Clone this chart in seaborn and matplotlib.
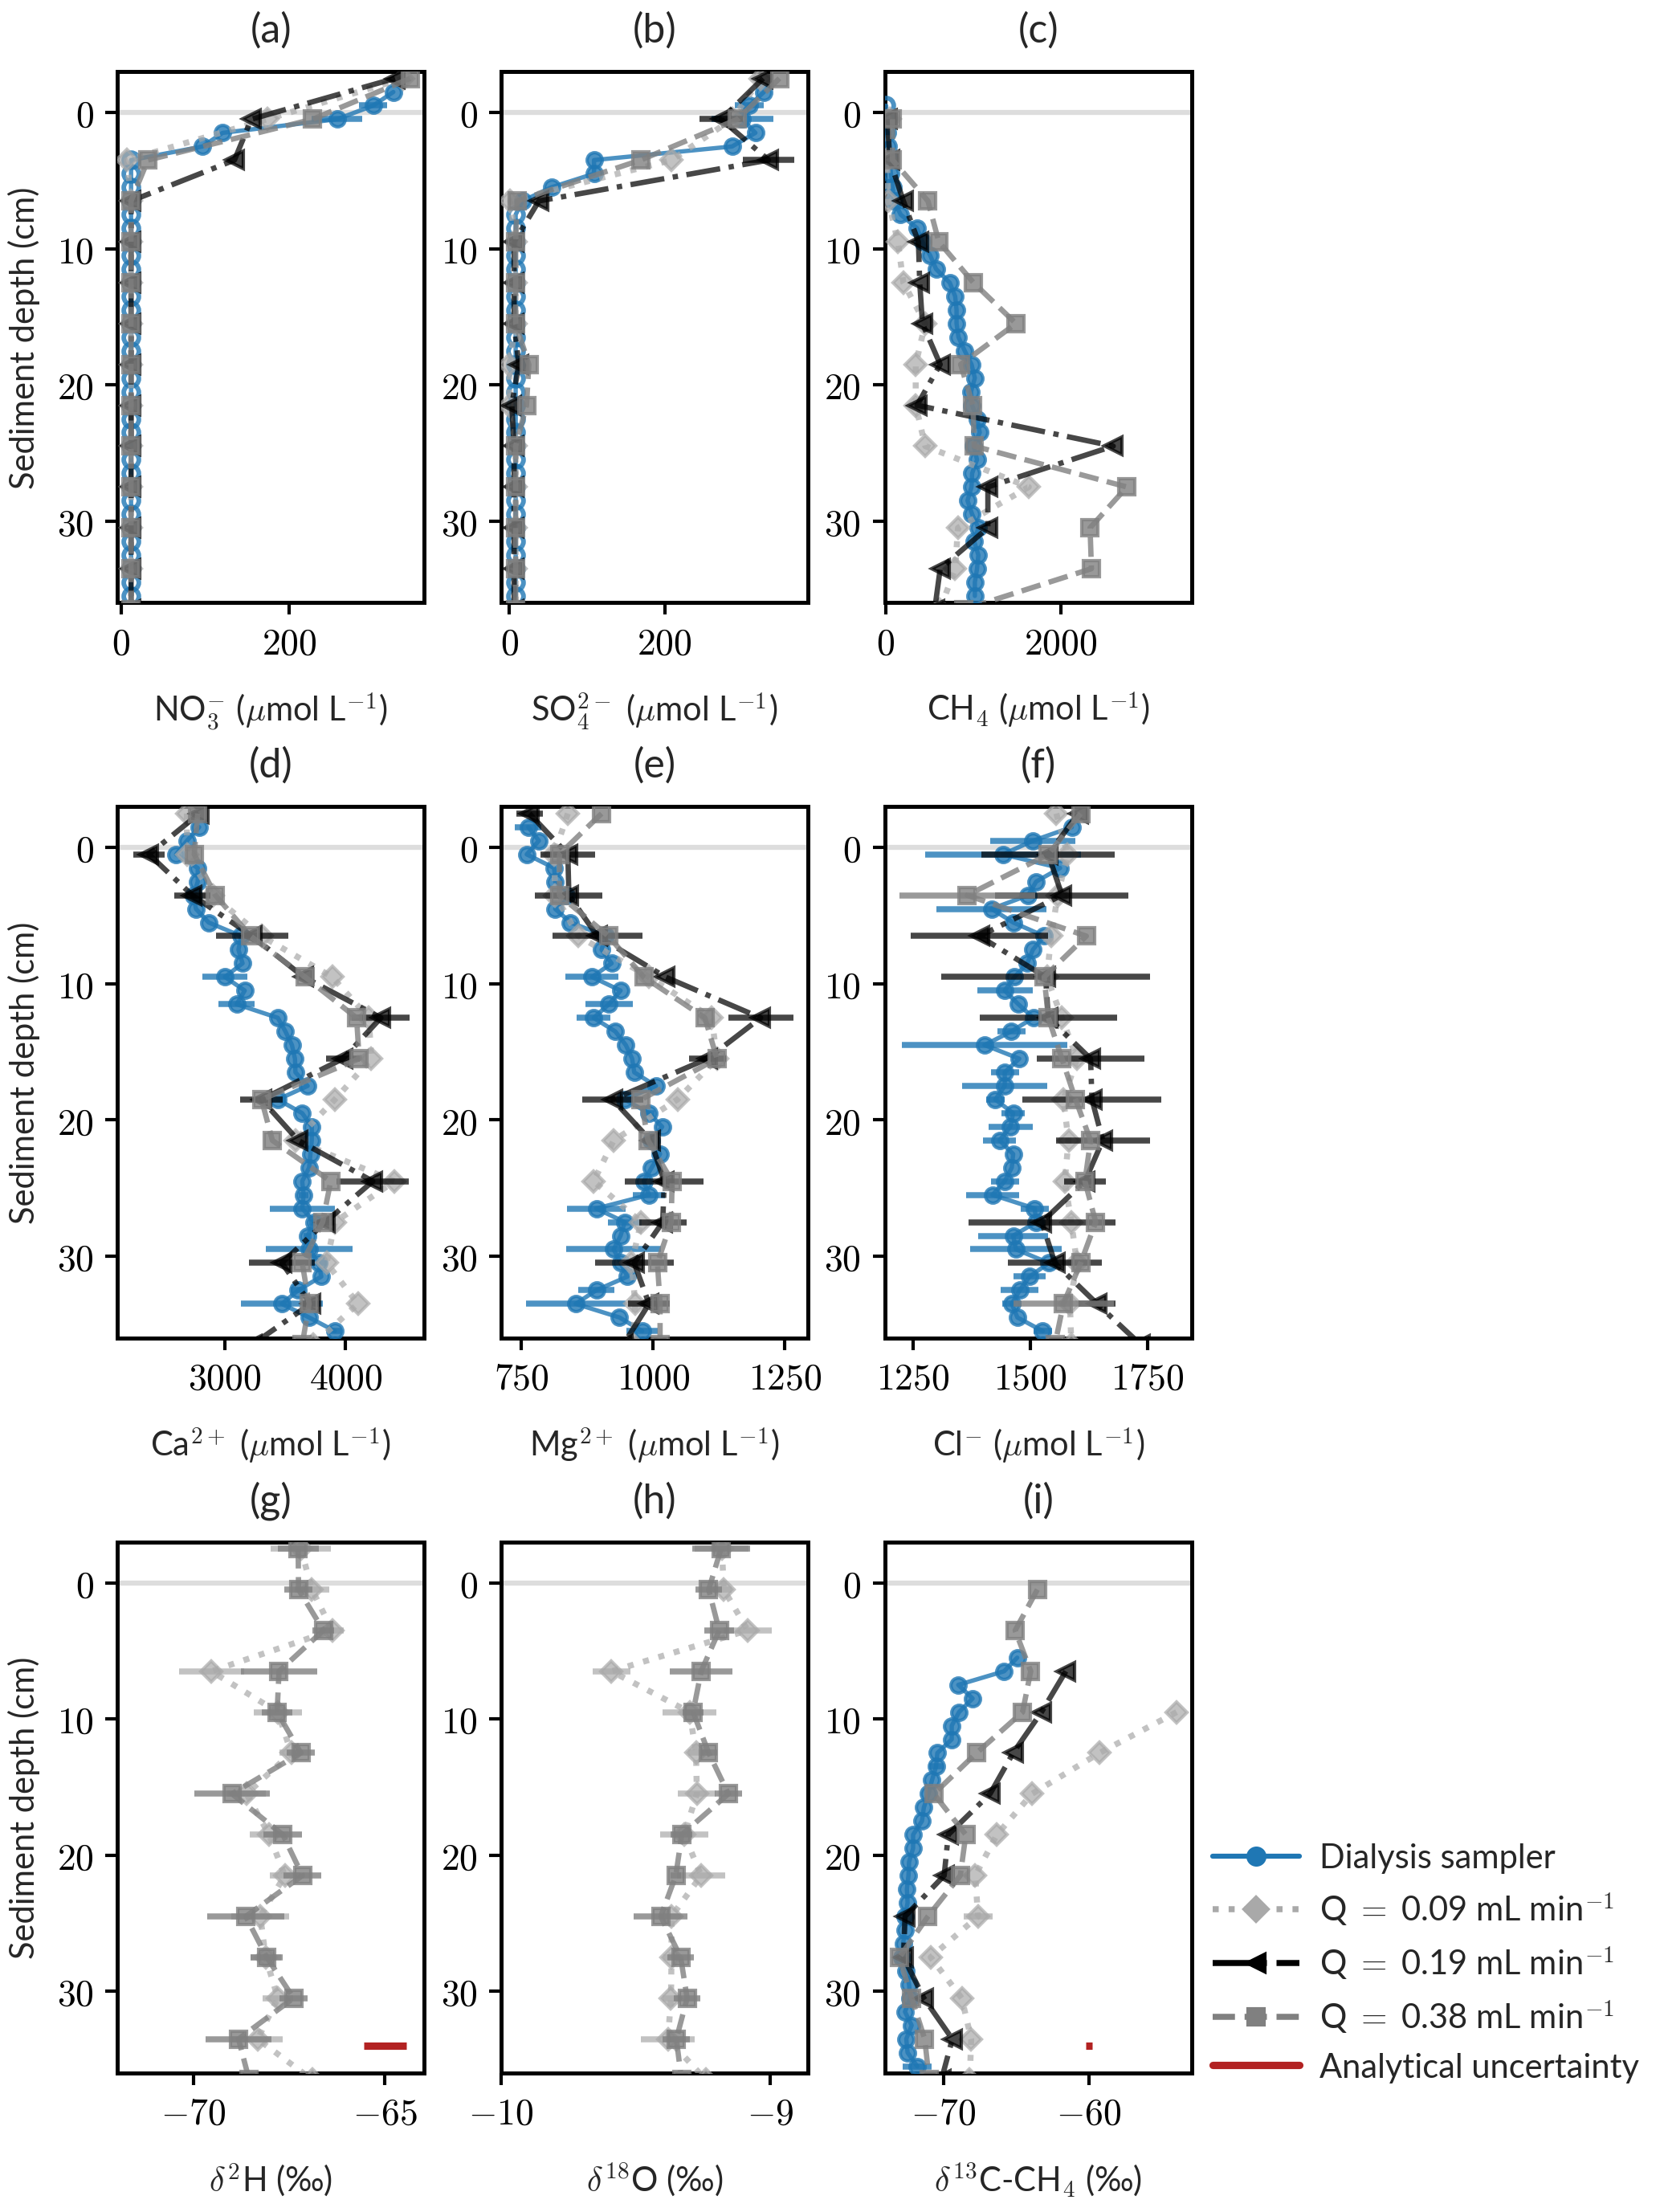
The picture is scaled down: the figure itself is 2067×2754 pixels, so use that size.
import numpy as np
import matplotlib
matplotlib.use("Agg")
import matplotlib.pyplot as plt
from matplotlib.lines import Line2D
from matplotlib.ticker import FuncFormatter
import seaborn as sns

nan = np.nan

# ---- depths (cm) ----
depth_dialysis = [-1.5, -0.5, 0.5, 1.5, 2.5, 3.5, 4.5, 5.5, 6.5, 7.5,
                  8.5, 9.5, 10.5, 11.5, 12.5, 13.5, 14.5, 15.5, 16.5, 17.5,
                  18.5, 19.5, 20.5, 21.5, 22.5, 23.5, 24.5, 25.5, 26.5, 27.5,
                  28.5, 29.5, 30.5, 31.5, 32.5, 33.5, 34.5, 35.5]
depth_q = [-2.5, 0.5, 3.5, 6.5, 9.5, 12.5, 15.5, 18.5, 21.5, 24.5, 27.5, 30.5, 33.5, 36.5]

# ---- dialysis sampler ----
dia_a = [324, 300, 257, 121, 97, 12, 12, 12, 12, 12,
         12, 12, 12, 12, 12, 12, 12, 12, 12, 12,
         12, 12, 12, 12, 12, 12, 12, 12, 12, 12,
         12, 12, 12, 12, 12, 12, 12, 12]
dia_a_err = [0, 17, 30, 0, 0, 0, 0, 0, 0, 0,
             0, 0, 0, 0, 0, 0, 0, 0, 0, 0,
             0, 0, 0, 0, 0, 0, 0, 0, 0, 0,
             0, 0, 0, 0, 0, 0, 0, 0]
dia_b = [328, 309, 300, 317, 287, 109, 109, 54, 17, 8,
         8, 8, 8, 8, 8, 8, 8, 8, 8, 8,
         8, 8, 8, 8, 8, 8, 8, 8, 8, 8,
         8, 8, 8, 8, 8, 8, 8, 8]
dia_b_err = [0, 19, 40, 0, 0, 0, 0, 0, 0, 0,
             0, 0, 0, 0, 0, 0, 0, 0, 0, 0,
             0, 0, 0, 0, 0, 0, 0, 0, 0, 0,
             0, 0, 0, 0, 0, 0, 0, 0]
dia_c = [nan, 5, 12, 20, 25, 45, 60, 80, 95, 171,
         358, 420, 508, 576, 732, 794, 810, 810, 832, 903,
         981, 1019, 975, 988, 1044, 1075, 1006, 1044, 988, 981,
         935, 988, 1059, 1012, 1059, 1044, 1019, 1019]
dia_d = [2787, 2685, 2596, 2775, 2775, 2740, 2760, 2865, 3135, 3112,
         3146, 3000, 3164, 3097, 3438, 3501, 3555, 3580, 3584, 3685,
         3438, 3640, 3719, 3719, 3708, 3697, 3640, 3652, 3640, 3740,
         3685, 3697, 3775, 3798, 3607, 3472, 3697, 3910]
dia_d_err = [0, 0, 0, 0, 0, 0, 0, 0, 0, 0,
             0, 185, 0, 150, 0, 0, 0, 0, 0, 0,
             65, 0, 0, 0, 0, 0, 0, 40, 270, 40,
             35, 360, 70, 0, 60, 340, 0, 55]
dia_e = [763, 783, 760, 812, 814, 835, 814, 843, 910, 902,
         921, 884, 938, 916, 887, 928, 948, 960, 964, 1005,
         946, 992, 1017, 997, 1013, 997, 982, 992, 892, 946,
         938, 925, 938, 951, 892, 853, 936, 979]
dia_e_err = [25, 0, 0, 0, 0, 0, 0, 0, 0, 0,
             0, 50, 0, 45, 32, 0, 0, 0, 0, 0,
             0, 10, 0, 0, 0, 0, 0, 30, 55, 32,
             0, 90, 0, 0, 35, 95, 0, 30]
dia_f = [1589, 1506, 1442, 1564, 1513, 1496, 1418, 1464, 1530, 1506,
         1494, 1467, 1446, 1475, 1507, 1460, 1403, 1477, 1446, 1446,
         1426, 1464, 1458, 1435, 1464, 1461, 1446, 1420, 1510, 1513,
         1464, 1470, 1540, 1499, 1478, 1461, 1473, 1527]
dia_f_err = [0, 91, 166, 0, 0, 0, 117, 0, 0, 0,
             0, 0, 59, 0, 0, 30, 176, 0, 30, 91,
             20, 25, 47, 35, 0, 0, 30, 56, 30, 0,
             75, 98, 0, 35, 40, 20, 0, 20]
dia_i = [nan, nan, nan, nan, nan, nan, nan, -64.93, -65.83, -68.99,
         -68.0, -68.94, -69.44, -69.44, -70.43, -70.52, -70.8, -71.04, -71.36, -71.49,
         -72.1, -72.1, -72.38, -72.42, -72.53, -72.48, -72.66, -72.66, -72.79, -72.85,
         -72.57, -72.38, -72.3, -72.66, -72.2, -72.57, -72.48, -71.82]
dia_i_err = [0, 0, 0, 0, 0, 0, 0, 0, 0, 0,
             0, 0, 0, 0, 0, 0.5, 0, 0, 0, 0,
             0, 0, 0, 0, 0, 0, 0, 0, 0, 0,
             0, 0, 0, 0, 0, 0, 0, 1.0]

# detection limits (values below drawn as open circles)
detect_a, detect_b, detect_c = 15, 10, 15

# ---- Q = 0.09 mL/min ----
q09_a = [336, 174, 7, 12, 12, 12, 12, 12, 12, 12, 12, 12, 12, 12]
q09_b = [324, 287, 209, 1, 8, 8, 8, 0, 0, 8, 8, 8, 8, 8]
q09_c = [nan, 47, 15, 30, 140, 202, 452, 343, 343, 452, 1636, 826, 794, 620]
q09_d = [2685, 2685, 2899, 3303, 3888, 4191, 4213, 3910, 3584, 4404, 3910, 3843, 4101, 3730]
q09_e = [838, 812, 814, 858, 992, 1111, 1121, 1046, 925, 887, 977, 959, 966, 961]
q09_f = [1556, 1580, 1559, 1545, 1536, 1568, 1600, 1571, 1582, 1574, 1588, 1600, 1585, 1588]
q09_g = [-67.2, -66.91, -66.38, -69.54, -67.8, -67.45, -68.62, -68.03, -67.62, -68.26, -68.12, -67.8, -68.33, -66.9]
q09_g_err = [0.79, 0.46, 0.3, 0.85, 0.62, 0.3, 0.5, 0.5, 0.4, 0.75, 0.4, 0.4, 0.66, 0]
q09_h = [-9.18, -9.173, -9.084, -9.59, -9.30, -9.276, -9.273, -9.32, -9.257, -9.367, -9.367, -9.369, -9.38, -9.24]
q09_h_err = [0.1, 0.03, 0.09, 0.07, 0.1, 0.03, 0.07, 0.09, 0.09, 0.03, 0.03, 0.03, 0.1, 0]
q09_i = [nan, nan, nan, nan, -53.95, -59.26, -63.91, -66.33, -67.82, -67.63, -70.89, -68.75, -68.1, -68.2]
q09_i_err = [0, 0, 0, 0, 0, 0, 0, 0, 0, 1.0, 0, 0, 0, 0]

# ---- Q = 0.19 mL/min ----
q19_a = [326, 155, 135, 12, 12, 12, 12, 12, 12, 12, 12, 12, 12, 12]
q19_b = [327, 273, 334, 38, 6, 6, 6, 12, 3, 6, 6, 6, 6, 6]
q19_b_err = [0, 28, 33, 0, 0, 0, 0, 0, 0, 0, 0, 0, 0, 0]
q19_c = [nan, 20, 47, 202, 374, 389, 420, 623, 358, 2601, 1168, 1168, 623, 560]
q19_d = [2787, 2371, 2730, 3225, 3652, 4292, 3978, 3303, 3607, 4225, 3831, 3472, 3708, 3225]
q19_d_err = [0, 130, 150, 300, 0, 240, 140, 175, 0, 300, 70, 270, 70, 0]
q19_e = [765, 838, 840, 894, 1023, 1204, 1103, 923, 995, 1021, 1018, 964, 992, 943]
q19_e_err = [25, 52, 64, 85, 0, 62, 35, 58, 0, 75, 45, 75, 40, 0]
q19_f = [1603, 1539, 1568, 1392, 1533, 1539, 1629, 1632, 1655, 1617, 1525, 1553, 1643, 1736]
q19_f_err = [0, 142, 142, 146, 222, 146, 115, 148, 100, 45, 157, 100, 40, 0]
q19_i = [nan, nan, nan, -61.58, -63.26, -65.21, -66.8, -69.68, -69.96, -72.66, -72.76, -71.36, -69.4, -70.15]

# ---- Q = 0.38 mL/min ----
q38_a = [344, 228, 32, 12, 12, 12, 12, 12, 12, 12, 12, 12, 12, 12]
q38_b = [348, 294, 169, 10, 8, 8, 8, 25, 22, 8, 8, 8, 8, 8]
q38_c = [nan, 78, 78, 483, 607, 1003, 1489, 857, 997, 1012, 2757, 2336, 2352, 890]
q38_d = [2775, 2746, 2921, 3213, 3663, 4090, 4112, 3303, 3393, 3876, 3809, 3640, 3697, 3640]
q38_d_err = [0, 0, 0, 0, 0, 50, 0, 0, 0, 0, 0, 0, 0, 0]
q38_e = [902, 822, 822, 915, 982, 1098, 1121, 977, 990, 1036, 1034, 1008, 1013, 1013]
q38_f = [1608, 1539, 1366, 1620, 1530, 1539, 1568, 1597, 1629, 1617, 1640, 1608, 1571, 1553]
q38_f_err = [0, 0, 145, 0, 0, 0, 0, 0, 0, 0, 0, 0, 107, 0]
q38_g = [-67.27, -67.26, -66.61, -67.77, -67.82, -67.2, -69.0, -67.67, -67.16, -68.64, -68.09, -67.39, -68.83, -68.55]
q38_g_err = [0.53, 0.37, 0.28, 0.99, 0.39, 0.36, 0.99, 0.5, 0.5, 1.0, 0.42, 0.37, 0.87, 0]
q38_h = [-9.183, -9.229, -9.19, -9.257, -9.287, -9.229, -9.156, -9.329, -9.351, -9.407, -9.333, -9.309, -9.349, -9.33]
q38_h_err = [0.108, 0.05, 0.055, 0.117, 0.04, 0.03, 0.05, 0.04, 0.02, 0.1, 0.05, 0.05, 0.05, 0]
q38_i = [nan, -63.54, -65.07, -64.0, -64.56, -67.73, -70.67, -68.47, -68.85, -71.08, -73.04, -72.2, -71.3, -70.99]

# analytical uncertainty bars (x centre, half width) at 34 cm
unc_depth = 34
unc_g = (-65.0, 0.56)
unc_h = (-8.748, 0.061)
unc_i = (-60.0, 0.22)

# ---- styling ----
sns.set_style("ticks")
plt.rcParams["font.family"] = ["Lato", "DejaVu Sans"]
plt.rcParams["mathtext.fontset"] = "cm"
plt.rcParams["font.size"] = 10
plt.rcParams["xtick.labelsize"] = 11
plt.rcParams["ytick.labelsize"] = 11
plt.rcParams["axes.linewidth"] = 1.2
plt.rcParams["axes.edgecolor"] = "black"
plt.rcParams["xtick.color"] = "black"
plt.rcParams["ytick.color"] = "black"
plt.rcParams["xtick.major.width"] = 1.0
plt.rcParams["ytick.major.width"] = 1.0

BLUE = "#1f77b4"
STY = {
    "dia": dict(color=BLUE, ls="-", marker="o", lw=1.3, ms=4.5, alpha=0.8, z=3),
    "q09": dict(color="darkgray", ls=":", marker="D", lw=1.8, ms=4.5, alpha=0.7, z=4),
    "q19": dict(color="black", ls="-.", marker="<", lw=1.6, ms=5.5, alpha=0.72, z=5),
    "q38": dict(color="gray", ls="--", marker="s", lw=1.6, ms=5, alpha=0.8, z=6),
}


def draw(ax, x, y, st, err=None, detect=None):
    x = np.asarray(x, float)
    y = np.asarray(y, float)
    ok = ~np.isnan(x)
    sns.lineplot(x=x[ok], y=y[ok], sort=False, estimator=None, ax=ax,
                 color=st["color"], linestyle=st["ls"], linewidth=st["lw"],
                 alpha=st["alpha"], zorder=st["z"])
    if err is not None:
        e = np.asarray(err, float)
        m = ok & (e > 0)
        ax.errorbar(x[m], y[m], xerr=e[m], fmt="none", ecolor=st["color"],
                    elinewidth=1.8, alpha=st["alpha"], zorder=st["z"])
    filled = ok if detect is None else ok & (x >= detect)
    ax.plot(x[filled], y[filled], ls="none", marker=st["marker"], ms=st["ms"],
            color=st["color"], alpha=st["alpha"], zorder=st["z"])
    if detect is not None:
        hol = ok & (x < detect)
        ax.plot(x[hol], y[hol], ls="none", marker=st["marker"], ms=st["ms"],
                mfc="none", mec=st["color"], mew=1.4, alpha=st["alpha"], zorder=st["z"])


mu = r"($\mu$mol L$^{-1}$)"
panels = [
    ("(a)", r"NO$_3^{-}$ " + mu, (-4.5, 361), [0, 200],
     (dia_a, dia_a_err, detect_a), (q09_a, None), (q19_a, None), (q38_a, None), None),
    ("(b)", r"SO$_4^{2-}$ " + mu, (-11, 385), [0, 200],
     (dia_b, dia_b_err, detect_b), (q09_b, None), (q19_b, q19_b_err), (q38_b, None), None),
    ("(c)", r"CH$_4$ " + mu, (-12, 3500), [0, 2000],
     (dia_c, None, detect_c), (q09_c, None), (q19_c, None), (q38_c, None), None),
    ("(d)", r"Ca$^{2+}$ " + mu, (2108, 4652), [3000, 4000],
     (dia_d, dia_d_err, None), (q09_d, None), (q19_d, q19_d_err), (q38_d, q38_d_err), None),
    ("(e)", r"Mg$^{2+}$ " + mu, (711, 1294), [750, 1000, 1250],
     (dia_e, dia_e_err, None), (q09_e, None), (q19_e, q19_e_err), (q38_e, None), None),
    ("(f)", r"Cl$^{-}$ " + mu, (1190, 1845), [1250, 1500, 1750],
     (dia_f, dia_f_err, None), (q09_f, None), (q19_f, q19_f_err), (q38_f, q38_f_err), None),
    ("(g)", r"$\delta^{2}$H (‰)", (-72.0, -63.97), [-70, -65],
     None, (q09_g, q09_g_err), None, (q38_g, q38_g_err), unc_g),
    ("(h)", r"$\delta^{18}$O (‰)", (-10.0, -8.86), [-10, -9],
     None, (q09_h, q09_h_err), None, (q38_h, q38_h_err), unc_h),
    ("(i)", r"$\delta^{13}$C-CH$_4$ (‰)", (-74.06, -52.9), [-70, -60],
     (dia_i, dia_i_err, None), (q09_i, q09_i_err), (q19_i, None), (q38_i, None), unc_i),
]

fig, axes = plt.subplots(3, 3, figsize=(6.89, 9.1833), dpi=300)
fig.subplots_adjust(left=0.0706, right=0.718, bottom=0.0628, top=0.9673,
                    wspace=0.249, hspace=0.384)

mathfmt = FuncFormatter(lambda v, p: r"$%g$" % v)

for k, (ax, p) in enumerate(zip(axes.flat, panels)):
    title, xlabel, xlim, xticks, dia, q09, q19, q38, unc = p
    ax.axhline(0, color="#dddddd", lw=1.5, zorder=1)
    if dia is not None:
        draw(ax, dia[0], depth_dialysis, STY["dia"], err=dia[1], detect=dia[2])
    if q09 is not None:
        draw(ax, q09[0], depth_q, STY["q09"], err=q09[1])
    if q19 is not None:
        draw(ax, q19[0], depth_q, STY["q19"], err=q19[1])
    if q38 is not None:
        draw(ax, q38[0], depth_q, STY["q38"], err=q38[1])
    if unc is not None:
        ax.errorbar([unc[0]], [unc_depth], xerr=[unc[1]], fmt="none",
                    ecolor="#b22222", elinewidth=2.2, zorder=7)
    ax.set_xlim(*xlim)
    ax.set_ylim(36, -3)
    ax.set_xticks(xticks)
    ax.set_yticks([0, 10, 20, 30])
    ax.xaxis.set_major_formatter(mathfmt)
    ax.yaxis.set_major_formatter(mathfmt)
    ax.set_title(title, fontsize=12, pad=9)
    ax.set_xlabel(xlabel, labelpad=9)
    if k % 3 == 0:
        ax.set_ylabel("Sediment depth (cm)", labelpad=5)
    else:
        ax.set_ylabel("")

handles = [
    Line2D([], [], color=BLUE, ls="-", marker="o", lw=1.5, ms=5),
    Line2D([], [], color="darkgray", ls=":", marker="D", lw=1.8, ms=5),
    Line2D([], [], color="black", ls="-.", marker="<", lw=1.8, ms=5.5),
    Line2D([], [], color="gray", ls="--", marker="s", lw=1.8, ms=5),
    Line2D([], [], color="#b22222", ls="-", lw=2.2),
]
labels = ["Dialysis sampler",
          r"Q $=$ 0.09 mL min$^{-1}$",
          r"Q $=$ 0.19 mL min$^{-1}$",
          r"Q $=$ 0.38 mL min$^{-1}$",
          "Analytical uncertainty"]
axes[2, 2].legend(handles, labels, loc="upper left", bbox_to_anchor=(0.97, 0.49),
                  frameon=False, handlelength=2.6, handletextpad=0.6, fontsize=10)

fig.savefig("out.png", dpi=300)
